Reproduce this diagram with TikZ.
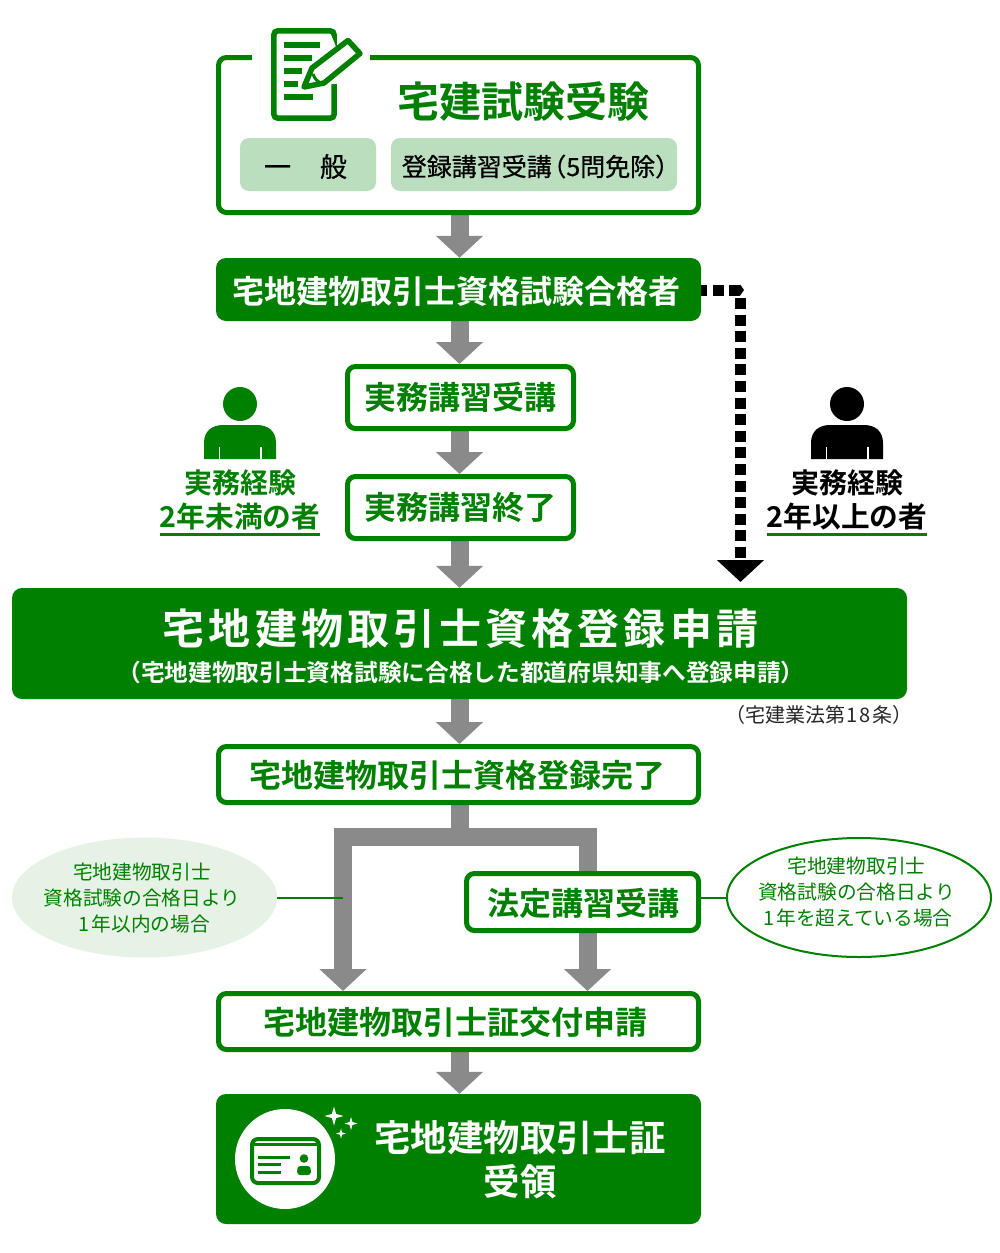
\documentclass[tikz,border=0pt]{standalone}
\usepackage{fontspec}
\setmainfont{Noto Sans CJK JP}[BoldFont={* Bold}]
\usetikzlibrary{arrows.meta,shapes.geometric,backgrounds}
\definecolor{gr}{RGB}{0,128,0}
\definecolor{chip}{RGB}{187,222,190}
\definecolor{pale}{RGB}{229,242,229}
\definecolor{ar}{RGB}{138,138,138}
\newcommand{\fs}[1]{\fontsize{#1}{#1}\selectfont}
\newcommand{\low}[2]{\raisebox{-#1pt}[\height][\depth]{#2}}
\newcommand{\medw}{\addfontfeature{FakeBold=0.6}}
\newcommand{\lpar}[1]{\kern-#1em（}
\newcommand{\rpar}[1]{）\kern-#1em}
\newcommand{\sparklestar}[3]{\fill[white] (#1,#2-#3) -- (#1+0.22*#3,#2-0.22*#3) -- (#1+#3,#2) -- (#1+0.22*#3,#2+0.22*#3) -- (#1,#2+#3) -- (#1-0.22*#3,#2+0.22*#3) -- (#1-#3,#2) -- (#1-0.22*#3,#2-0.22*#3) -- cycle;}
\newcommand{\personshape}[2]{%
  \fill[#2] (#1,404) ellipse [x radius=17,y radius=17];
  \fill[#2] (#1-36,459) -- (#1-36,443) .. controls (#1-36,431) and (#1-28,425) .. (#1-17,425) -- (#1+17,425) .. controls (#1+28,425) and (#1+36,431) .. (#1+36,443) -- (#1+36,459) -- cycle;
  \fill[white] (#1-21.5,447) rectangle (#1-20,459);
  \fill[white] (#1+20,447) rectangle (#1+21.5,459);}
\tikzset{
  x=1pt,y=-1pt,
  outbox/.style={draw=gr,line width=5pt,rounded corners=8pt,fill=white,anchor=center,inner sep=0pt,font=\bfseries\fs{32},text=gr},
  solidbox/.style={fill=gr,rounded corners=10pt,anchor=center,inner sep=0pt,font=\bfseries\fs{32},text=white},
  chipbox/.style={fill=chip,rounded corners=9pt,inner sep=0pt,text=black},
  flow/.style={draw=ar,line width=18pt,-{Triangle[width=46pt,length=22pt]}},
  stemline/.style={draw=ar,line width=18pt},
  elbowflow/.style={draw=ar,line width=18pt,-{Triangle[width=46pt,length=22pt]}},
  skiph/.style={draw=black,line width=11pt,dash pattern=on 6pt off 5.5pt on 11pt off 5.5pt on 14pt off 5pt,-{Triangle[width=11pt,length=4pt]}},
  skipv/.style={draw=black,line width=11pt,dash pattern=on 11pt off 5.6pt,-{Triangle[width=46pt,length=22pt]}},
  lead/.style={draw=gr,line width=2pt},
  note/.style={align=center,inner sep=0pt,font=\fontsize{19.7}{26}\selectfont,text=gr},
  expl/.style={inner sep=0pt,font=\bfseries\fs{28}},
  icon/.style={draw=gr,line width=5.5pt},
  cardline/.style={draw=gr,line width=3pt},
}
\begin{document}
\begin{tikzpicture}
\useasboundingbox (0,0) rectangle (1000,1253);
% nodes
\node[outbox,minimum width=480pt,minimum height=155pt] (exam) at (458.5,135) {};
\fill[white] (252,50) rectangle (370,62);
\node[font=\bfseries\fs{42},text=gr,inner sep=0pt] (examt) at (523,101) {宅建試験受験};
\node[chipbox,minimum width=136pt,minimum height=53pt,font=\fs{27}] (ippan) at (308,164.5) {\low{2}{\medw 一\hspace{1.07em}般}\kern5pt};
\node[chipbox,minimum width=286pt,minimum height=53pt,font=\fs{25}] (toroku) at (534,164.5) {\kern9pt\low{2}{\medw 登録講習受講\lpar{.42}5問免除\rpar{.2}}};
\node[solidbox,minimum width=485pt,minimum height=63pt] (pass) at (458.5,289.5) {\low{2}{宅地建物取引士資格試験合格者}\kern5pt};
\node[outbox,minimum width=226pt,minimum height=62pt] (jitsu1) at (460.5,397.5) {実務講習受講};
\node[outbox,minimum width=226pt,minimum height=62pt] (jitsu2) at (460.5,507.5) {実務講習終了};
\node[solidbox,minimum width=895pt,minimum height=111pt] (apply) at (459.5,643.5) {};
\node[text=white,font=\bfseries\fs{42},inner sep=0pt] (applyt) at (460.5,629) {\addfontfeature{LetterSpace=9.8}宅地建物取引士資格登録申請};
\node[text=white,font=\bfseries\fs{23.7},inner sep=0pt] (applys) at (461,672) {\lpar{.4}宅地建物取引士資格試験に合格した都道府県知事へ登録申請\rpar{.4}};
\node[inner sep=0pt,font=\fs{20},text=black!85] (law) at (819,715) {\lpar{.45}宅建業法第\kern1.5pt 1\kern2pt 8\kern1.5pt 条\rpar{.45}};
\node[outbox,minimum width=480pt,minimum height=56pt] (done) at (458.5,774.5) {\low{1}{宅地建物取引士資格登録完了}\kern3pt};
\node[outbox,minimum width=232pt,minimum height=57pt] (hotei) at (582.5,902) {\low{1}{\hspace{2pt}法定講習受講}};
\node[outbox,minimum width=480pt,minimum height=56pt] (issue) at (458.5,1021.5) {\low{1}{宅地建物取引士証交付申請}\kern6pt};
\node[solidbox,minimum width=485pt,minimum height=130pt] (final) at (458.5,1159) {};
\node[text=white,font=\bfseries\fs{36.4},inner sep=0pt] (finalt) at (520,1138) {宅地建物取引士証};
\node[text=white,font=\bfseries\fs{36.4},inner sep=0pt] (finalu) at (520,1182) {受領};
\node[ellipse,fill=pale,minimum width=265pt,minimum height=120pt,inner sep=0pt] (el1) at (144.5,897.5) {};
\node[note] (el1t) at (142,898) {宅地建物取引士\\資格試験の合格日より\\\kern5pt 1\kern2pt 年以内の場合};
\node[ellipse,draw=gr,line width=2pt,fill=white,minimum width=264pt,minimum height=119pt,inner sep=0pt] (el2) at (859,897.5) {};
\node[note] (el2t) at (856.5,892) {宅地建物取引士\\資格試験の合格日より\\\kern3pt 1\kern2pt 年を超えている場合};
\node[expl,text=gr] (lnew1) at (240,483) {実務経験};
\node[expl,text=gr,font=\bfseries\fs{28.7}] (lnew2) at (240,516.5) {2年未満の者};
\node[expl,text=black] (lold1) at (847,483) {実務経験};
\node[expl,text=black,font=\bfseries\fs{28.7}] (lold2) at (847,516.5) {2年以上の者};
% connector coordinates
\coordinate (ax) at (459.5,0);
\coordinate (stem) at (459.5,837);
\coordinate (jl) at (343,837);
\coordinate (jr) at (587.5,837);
\coordinate (skc) at (744,290);
\coordinate (skv) at (740.5,298);
\coordinate (skend) at (740.5,582);
\coordinate (leadl) at (343,897.5);
% connectors
\begin{scope}[on background layer]
\draw[flow] (exam.south -| ax) -- (pass.north -| ax);
\draw[flow] (pass.south -| ax) -- (jitsu1.north -| ax);
\draw[flow] (jitsu1.south -| ax) -- (jitsu2.north -| ax);
\draw[flow] (jitsu2.south -| ax) -- (apply.north -| ax);
\draw[flow] (apply.south -| ax) -- (done.north -| ax);
\draw[stemline] (done.south -| stem) -- (stem);
\draw[elbowflow] (stem) -- (jl) -- (issue.north -| jl);
\draw[elbowflow] (stem) -- (jr) -- (issue.north -| jr);
\draw[flow] (issue.south -| ax) -- (final.north -| ax);
\draw[lead] (el1) -- (leadl);
\draw[lead] (hotei.east |- el2) -- (el2);
\end{scope}
\draw[skiph] (pass.east |- skc) -- (skc);
\draw[skipv] (skv) -- (skend);
% underlines
\draw[gr,line width=3pt] (lnew2.west |- 0,534) -- (lnew2.east |- 0,534);
\draw[gr,line width=3pt] (lold2.west |- 0,534) -- (lold2.east |- 0,534);
% persons
\personshape{240}{gr}
\personshape{847}{black}
% document icon
\draw[icon,rounded corners=4pt] (334.2,84) -- (334.2,118.2) -- (273.8,118.2) -- (273.8,30.8) -- (334.2,30.8) -- (334.2,34);
\foreach \yy/\xx in {45/320,58/312,71/302,84/298,97/313} \draw[gr,line width=5.5pt] (284,\yy) -- (\xx,\yy);
% pencil
\draw[draw=gr,fill=white,line width=5.5pt,line join=round] (348,40.5) -- (360,53.5) -- (324,83) -- (304,87) -- (312,68) -- cycle;
\draw[gr,line width=3pt] (313,74) .. controls (315,80) and (318,81) .. (319,82);
% card icon
\fill[white] (285,1159) circle [radius=50];
\draw[gr,line width=4pt,rounded corners=6pt] (252,1139) rectangle (319,1183);
\draw[cardline] (252,1144.5) -- (319,1144.5);
\draw[cardline] (258,1157) -- (290,1157);
\draw[cardline] (258,1164.5) -- (281,1164.5);
\draw[cardline] (258,1172.5) -- (281,1172.5);
\fill[gr] (304,1158.5) circle [radius=4.3];
\fill[gr,rounded corners=3pt] (297,1175) -- (297.5,1166) -- (310.5,1166) -- (311,1175) -- cycle;
\sparklestar{334}{1116}{9.5}
\sparklestar{351}{1123.5}{6.5}
\sparklestar{341}{1133.5}{5}
\end{tikzpicture}
\end{document}
